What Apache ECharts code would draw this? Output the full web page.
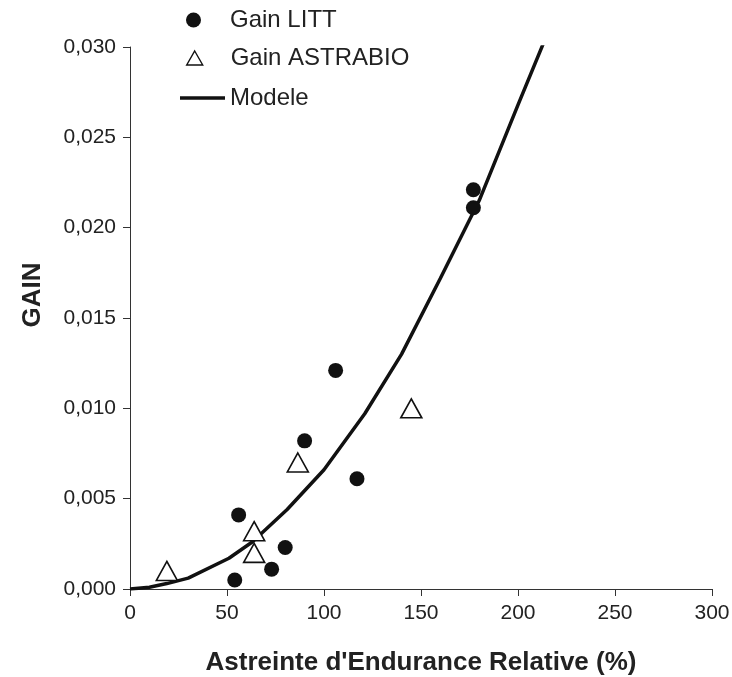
<!DOCTYPE html>
<html>
<head>
<meta charset="utf-8">
<script src="https://cdn.jsdelivr.net/npm/echarts@6/dist/echarts.min.js"></script>
<style>
html,body{margin:0;padding:0;background:#fff;}
#chart{width:732px;height:677px;}
</style>
</head>
<body>
<div id="chart"></div>
<script>
// Data
const littX = [177, 177, 106, 117, 90, 56, 80, 73, 54];
const littY = [0.0221, 0.0211, 0.0121, 0.0061, 0.0082, 0.0041, 0.0023, 0.0011, 0.0005];
const astraX = [19, 64, 64, 86.5, 145];
const astraY = [0.0010, 0.0032, 0.0020, 0.0070, 0.0100];
const modelX = [0, 10, 19, 30, 51, 63, 81, 100, 121, 140, 160, 180, 200, 220];
const modelY = [0, 0.0001, 0.0003, 0.0006, 0.0017, 0.0026, 0.0044, 0.0066, 0.0097, 0.0130, 0.0172, 0.0215, 0.0268, 0.0320];
const xTicks = [0, 50, 100, 150, 200, 250, 300];
const yTicks = ['0,000', '0,005', '0,010', '0,015', '0,020', '0,025', '0,030'];

const pairs = (xs, ys) => xs.map((x, i) => [x, ys[i]]);
const FONT = '"Liberation Sans", Arial, sans-serif';
const INK = '#111';

const chart = echarts.init(document.getElementById('chart'), null, {renderer: 'canvas'});
const legendText = (pad) => ({fontFamily: FONT, fontSize: 24, color: '#222', padding: [0, 0, 0, pad]});
chart.setOption({
  backgroundColor: '#fff',
  animation: false,
  legend: [
    {data: [{name: 'Gain LITT', icon: 'circle'}], left: 186, top: 8, padding: 0, itemWidth: 15, itemHeight: 15,
     itemStyle: {color: INK, opacity: 1}, textStyle: legendText(24), selectedMode: false},
    {data: [{name: 'Gain ASTRABIO', icon: 'triangle'}], left: 186, top: 46, padding: 0, itemWidth: 16, itemHeight: 14,
     itemStyle: {color: '#fff', borderColor: INK, borderWidth: 1.4}, textStyle: legendText(23), selectedMode: false},
    {data: [{name: 'Modele', icon: 'rect'}], left: 180, top: 86, padding: 0, itemWidth: 45, itemHeight: 3.5,
     itemStyle: {color: INK}, textStyle: legendText(0), selectedMode: false}
  ],
  grid: {left: 130, right: 20, top: 47, bottom: 88, containLabel: false, outerBoundsMode: 'none'},
  xAxis: {
    type: 'value', min: 0, max: 300, interval: 50,
    name: "Astreinte d'Endurance Relative (%)",
    nameLocation: 'middle', nameGap: 61,
    nameTextStyle: {fontFamily: FONT, fontSize: 26, fontWeight: 'bold', color: '#222'},
    axisLine: {lineStyle: {color: '#333', width: 1}},
    axisTick: {show: true, length: 7, lineStyle: {color: '#333'}},
    axisLabel: {fontFamily: FONT, fontSize: 21, color: '#222', margin: 14,
      formatter: v => String(xTicks[Math.round(v / 50)])},
    splitLine: {show: false}
  },
  yAxis: {
    type: 'value', min: 0, max: 0.03, interval: 0.005,
    name: 'GAIN',
    nameLocation: 'middle', nameGap: 84, nameRotate: 90,
    nameTextStyle: {fontFamily: FONT, fontSize: 26, fontWeight: 'bold', color: '#222', padding: [0, 0, 0, 46]},
    axisLine: {show: true, lineStyle: {color: '#333', width: 1}},
    axisTick: {show: true, length: 7, lineStyle: {color: '#333'}},
    axisLabel: {fontFamily: FONT, fontSize: 21, color: '#222', margin: 14,
      formatter: v => yTicks[Math.round(v / 0.005)]},
    splitLine: {show: false}
  },
  series: [
    {
      name: 'Gain LITT', type: 'scatter', data: pairs(littX, littY),
      symbol: 'circle', symbolSize: 15,
      itemStyle: {color: INK, opacity: 1}, z: 3
    },
    {
      name: 'Gain ASTRABIO', type: 'scatter', data: pairs(astraX, astraY),
      symbol: 'triangle', symbolSize: [21, 19],
      itemStyle: {color: '#fff', borderColor: INK, borderWidth: 1.6, opacity: 1}, z: 4
    },
    {
      name: 'Modele', type: 'line', data: pairs(modelX, modelY),
      symbol: 'none', clip: true,
      lineStyle: {color: INK, width: 3.5},
      itemStyle: {color: INK}, z: 2
    }
  ]
});
</script>
</body>
</html>
